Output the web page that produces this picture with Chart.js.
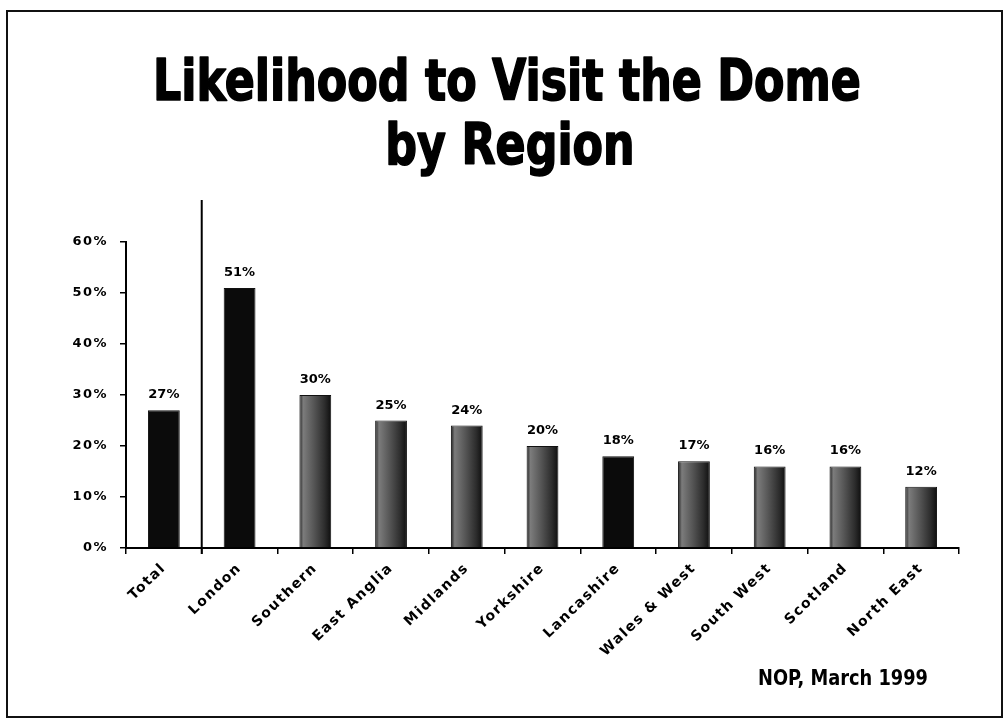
<!DOCTYPE html>
<html>
<head>
<meta charset="utf-8">
<title>Likelihood to Visit the Dome by Region</title>
<script src="https://cdn.jsdelivr.net/npm/chart.js@4.4.0/dist/chart.umd.min.js"></script>
<style>
  html, body { margin: 0; padding: 0; background: #fff; }
  #wrap { width: 1006px; height: 720px; }
</style>
</head>
<body>
<div id="wrap"><canvas id="chart" width="1006" height="720"></canvas></div>
<script>
// Survey results by region
const regions = ['Total', 'London', 'Southern', 'East Anglia', 'Midlands', 'Yorkshire',
                 'Lancashire', 'Wales & West', 'South West', 'Scotland', 'North East'];
const likelihood = [27, 51, 30, 25, 24, 20, 18, 17, 16, 16, 12];
const solidRegions = ['Total', 'London', 'Lancashire'];
const yTicks = [0, 10, 20, 30, 40, 50, 60];
const titleLines = ['Likelihood to Visit the Dome', 'by Region'];
const sourceNote = 'NOP, March 1999';

const condensed = "'DejaVu Sans Condensed', 'Liberation Sans Narrow', sans-serif";
const wide = "'DejaVu Sans', 'Liberation Sans', sans-serif";
const BAR_FRACTION = 0.42;

// Shaded fill for the regional bars, solid black for the highlighted ones
function barFill(ctx) {
  const name = regions[ctx.dataIndex];
  if (solidRegions.includes(name)) return '#0b0b0b';
  const chart = ctx.chart;
  const x = chart.scales.x;
  if (!x || !x.width) return '#444';
  const cx = x.getPixelForValue(ctx.dataIndex);
  const hw = x.width / regions.length * BAR_FRACTION / 2;
  const g = chart.ctx.createLinearGradient(cx - hw, 0, cx + hw, 0);
  g.addColorStop(0, '#1e1e1e');
  g.addColorStop(0.12, '#7c7c7c');
  g.addColorStop(0.45, '#565656');
  g.addColorStop(0.8, '#2c2c2c');
  g.addColorStop(1, '#0e0e0e');
  return g;
}

// Heavy condensed text, squeezed horizontally
function condensedText(c, text, x, y, size, squeeze, align, weight) {
  c.save();
  c.font = 'bold ' + size + 'px ' + condensed;
  c.textAlign = align;
  c.textBaseline = 'alphabetic';
  c.translate(x, y);
  c.scale(squeeze, 1);
  c.fillText(text, 0, 0);
  if (weight) {
    c.lineWidth = weight;
    c.lineJoin = 'round';
    c.strokeStyle = c.fillStyle;
    c.strokeText(text, 0, 0);
  }
  c.restore();
}

const decorations = {
  id: 'decorations',
  beforeDraw(chart) {
    const c = chart.ctx;
    c.save();
    c.strokeStyle = '#111';
    c.lineWidth = 2;
    c.strokeRect(7, 11, 995, 706);
    c.fillStyle = '#000';
    condensedText(c, titleLines[0], 507, 100, 57, 0.865, 'center', 1.6);
    condensedText(c, titleLines[1], 510, 164, 57, 0.865, 'center', 1.6);
    c.restore();
    c.letterSpacing = '1.5px';
  },
  afterDatasetsDraw(chart) {
    const c = chart.ctx;
    c.letterSpacing = '0px';
    const meta = chart.getDatasetMeta(0);
    c.save();
    c.fillStyle = '#000';
    c.font = 'bold 13px ' + wide;
    c.textAlign = 'center';
    c.textBaseline = 'alphabetic';
    meta.data.forEach((bar, i) => {
      c.fillText(likelihood[i] + '%', bar.x, bar.y - 12);
    });
    c.restore();
  },
  afterDraw(chart) {
    const c = chart.ctx;
    const x = chart.scales.x;
    const area = chart.chartArea;
    // divider between the national total and the regions
    const sx = (x.getPixelForValue(0) + x.getPixelForValue(1)) / 2;
    c.save();
    c.strokeStyle = '#000';
    c.lineWidth = 2;
    c.beginPath();
    c.moveTo(sx, area.top - 42);
    c.lineTo(sx, area.bottom + 6);
    c.stroke();
    // source note
    c.fillStyle = '#000';
    condensedText(c, sourceNote, 928, 685, 22, 0.9, 'right', 0);
    c.restore();
  }
};

new Chart(document.getElementById('chart'), {
  type: 'bar',
  data: {
    labels: regions,
    datasets: [{
      data: likelihood,
      backgroundColor: barFill,
      borderColor: '#111',
      borderWidth: 1,
      barPercentage: BAR_FRACTION,
      categoryPercentage: 1
    }]
  },
  options: {
    responsive: false,
    devicePixelRatio: 1,
    animation: false,
    layout: { padding: { left: 0, right: 47, top: 242, bottom: 0 } },
    plugins: {
      legend: { display: false },
      tooltip: { enabled: false },
      title: { display: false }
    },
    scales: {
      x: {
        grid: { display: true, offset: true, drawOnChartArea: false, drawTicks: true,
                tickLength: 6, color: '#000', lineWidth: 1.5 },
        border: { display: true, color: '#000', width: 2 },
        ticks: { color: '#000', font: { family: wide, size: 14, weight: 'bold' },
                 minRotation: 44, maxRotation: 44, padding: 6, autoSkip: false },
        afterFit(scale) { scale.height = 172; }
      },
      y: {
        min: 0,
        max: 60,
        afterBuildTicks(scale) { scale.ticks = yTicks.map(v => ({ value: v })); },
        grid: { display: true, drawOnChartArea: false, drawTicks: true,
                tickLength: 6, color: '#000', lineWidth: 1.5 },
        border: { display: true, color: '#000', width: 2 },
        ticks: { color: '#000', font: { family: wide, size: 13, weight: 'bold' },
                 padding: 12, callback: v => v + '%' },
        afterFit(scale) { scale.width = 126; }
      }
    }
  },
  plugins: [decorations]
});
</script>
</body>
</html>
